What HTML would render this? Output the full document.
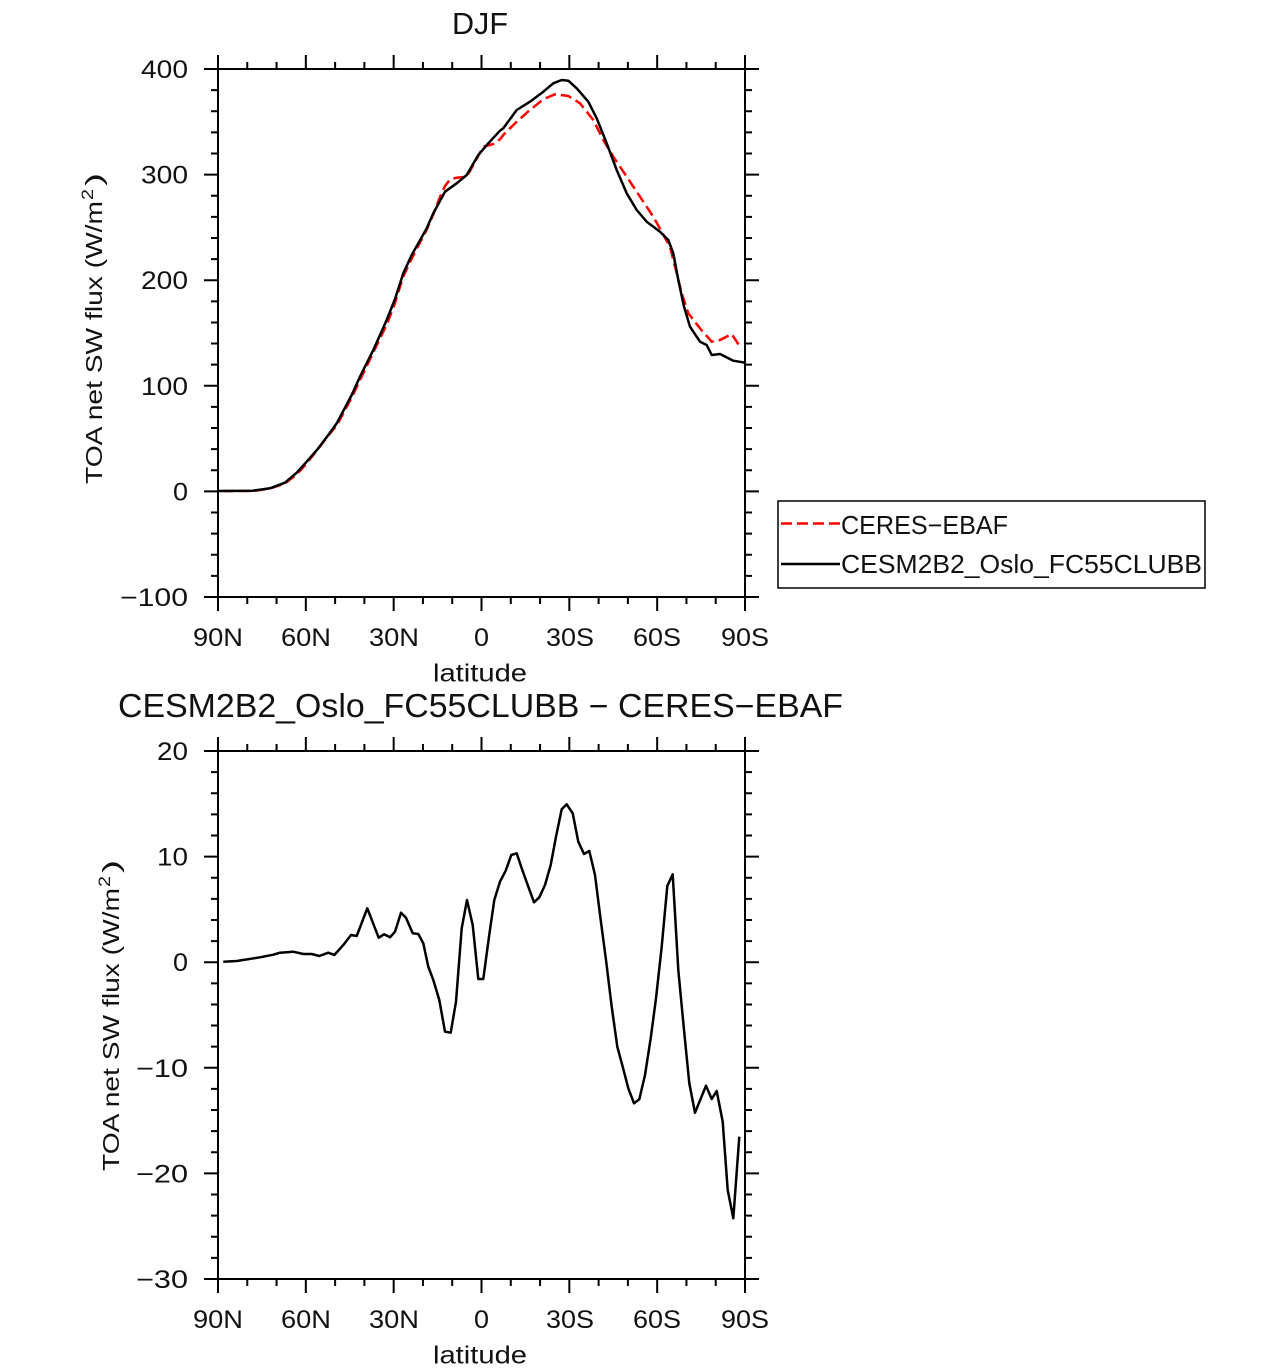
<!DOCTYPE html>
<html><head><meta charset="utf-8"><style>
html,body{margin:0;padding:0;background:#fff;}
svg{display:block;}
text{font-family:"Liberation Sans",sans-serif;fill:#111;}
</style></head><body>
<svg width="1285" height="1369" viewBox="0 0 1285 1369" xmlns="http://www.w3.org/2000/svg">
<rect width="1285" height="1369" fill="#fff"/>
<defs>
<g id="axes">
<rect x="218" y="69" width="527" height="528" fill="none" stroke="#000" stroke-width="2"/>
<path fill="none" stroke="#000" stroke-width="2" d="
M218 55V69M218 597V611M305.83 55V69M305.83 597V611M393.67 55V69M393.67 597V611M481.5 55V69M481.5 597V611M569.33 55V69M569.33 597V611M657.17 55V69M657.17 597V611M745 55V69M745 597V611
M247.28 62V69M247.28 597V604M276.56 62V69M276.56 597V604M335.11 62V69M335.11 597V604M364.39 62V69M364.39 597V604M422.94 62V69M422.94 597V604M452.22 62V69M452.22 597V604M510.78 62V69M510.78 597V604M540.06 62V69M540.06 597V604M598.61 62V69M598.61 597V604M627.89 62V69M627.89 597V604M686.44 62V69M686.44 597V604M715.72 62V69M715.72 597V604
M204 69H218M745 69H759M204 174.6H218M745 174.6H759M204 280.2H218M745 280.2H759M204 385.8H218M745 385.8H759M204 491.4H218M745 491.4H759M204 597H218M745 597H759
M211 90.12H218M745 90.12H752M211 111.24H218M745 111.24H752M211 132.36H218M745 132.36H752M211 153.48H218M745 153.48H752
M211 195.72H218M745 195.72H752M211 216.84H218M745 216.84H752M211 237.96H218M745 237.96H752M211 259.08H218M745 259.08H752
M211 301.32H218M745 301.32H752M211 322.44H218M745 322.44H752M211 343.56H218M745 343.56H752M211 364.68H218M745 364.68H752
M211 406.92H218M745 406.92H752M211 428.04H218M745 428.04H752M211 449.16H218M745 449.16H752M211 470.28H218M745 470.28H752
M211 512.52H218M745 512.52H752M211 533.64H218M745 533.64H752M211 554.76H218M745 554.76H752M211 575.88H218M745 575.88H752"/>
<g font-size="25">
<text x="193" y="646" textLength="50" lengthAdjust="spacingAndGlyphs">90N</text>
<text x="281" y="646" textLength="50" lengthAdjust="spacingAndGlyphs">60N</text>
<text x="369" y="646" textLength="50" lengthAdjust="spacingAndGlyphs">30N</text>
<text x="474" y="646" textLength="15" lengthAdjust="spacingAndGlyphs">0</text>
<text x="546" y="646" textLength="48" lengthAdjust="spacingAndGlyphs">30S</text>
<text x="633" y="646" textLength="48" lengthAdjust="spacingAndGlyphs">60S</text>
<text x="721" y="646" textLength="48" lengthAdjust="spacingAndGlyphs">90S</text>
<text x="433" y="681.5" textLength="94" lengthAdjust="spacingAndGlyphs">latitude</text>
</g>
</g>
</defs>

<!-- Top plot -->
<text x="452" y="34" font-size="31" textLength="56" lengthAdjust="spacingAndGlyphs">DJF</text>
<use href="#axes"/>
<g font-size="25">
<text x="141" y="78" textLength="47" lengthAdjust="spacingAndGlyphs">400</text>
<text x="141" y="183.6" textLength="47" lengthAdjust="spacingAndGlyphs">300</text>
<text x="141" y="289.2" textLength="47" lengthAdjust="spacingAndGlyphs">200</text>
<text x="141" y="394.8" textLength="47" lengthAdjust="spacingAndGlyphs">100</text>
<text x="173" y="500.4" textLength="15" lengthAdjust="spacingAndGlyphs">0</text>
<text x="120" y="606" textLength="68" lengthAdjust="spacingAndGlyphs">−100</text>
</g>
<g transform="translate(102,484) rotate(-90)">
<text x="0" y="0" font-size="23" textLength="283" lengthAdjust="spacingAndGlyphs">TOA net SW flux (W/m</text>
<text x="284" y="-9" font-size="17" textLength="11" lengthAdjust="spacingAndGlyphs">2</text>
<text x="298" y="0" font-size="23" textLength="13" lengthAdjust="spacingAndGlyphs">)</text>
</g>

<polyline fill="none" stroke="#ff0000" stroke-width="2.5" stroke-dasharray="11 5" stroke-linejoin="round" points="223,491 253,491 270,488.5 285,483.5 297,474 307,463 318,449 328,436 337,425 345,410 352,397 360,380 373,353 387,324 395,303 403,277 412,258 427,229 433,215 440,197 445,186 450,179.5 456.7,177.7 466.7,176.7 473.3,165 483.3,146.7 493.3,144 500,139.3 503.3,135 516.7,121.7 530,110 543.3,99.3 555,94.3 568.3,96 580,103.3 593.3,120 603.3,140 613.3,156.7 626.7,176.7 640,196.7 653.3,216.7 661.7,231.7 670,246.7 676.7,273.3 681.7,293.3 688.3,313.3 700,328.3 711.7,341.7 720,340 731.7,334 740,346.7"/>
<polyline fill="none" stroke="#000" stroke-width="2.5" stroke-linejoin="round" points="218,491 253,490.7 270,488.3 285,482.7 296.7,472.7 306.7,461.7 318.3,448.3 328.3,435 336.7,423.3 345,407.7 351.7,395 360,376.7 373.3,350 386.7,320 395,299 403.3,273.3 411.7,255 426.7,228.3 433.3,213.3 445,191.7 456.7,183.3 466.7,175 478.3,155 488.3,143.3 500,130.7 503.3,128.3 516.7,110 530,101.7 543.3,91.7 553.3,83.3 561.7,80 568.3,80.7 576.7,88.3 588.3,101.7 596.7,118.3 606.7,143.3 616.7,170 626.7,193.3 636.7,210 646.7,221.7 660,231.7 668.3,240 673.3,253.3 678.3,280 684,306.7 690,326.7 700,341.7 706.7,345 711.7,355 720,354 733.3,360.7 745,362.7"/>

<!-- Legend -->
<rect x="778" y="501" width="427" height="87" fill="#fff" stroke="#000" stroke-width="1.5"/>
<line x1="781" y1="523.5" x2="840" y2="523.5" stroke="#ff0000" stroke-width="2.5" stroke-dasharray="11 5"/>
<line x1="781" y1="564" x2="840" y2="564" stroke="#000" stroke-width="2.5"/>
<text x="841" y="534" font-size="26" textLength="167" lengthAdjust="spacingAndGlyphs">CERES−EBAF</text>
<text x="841" y="573" font-size="26" textLength="361" lengthAdjust="spacingAndGlyphs">CESM2B2_Oslo_FC55CLUBB</text>

<!-- Bottom plot -->
<text x="118" y="717" font-size="33" textLength="725" lengthAdjust="spacingAndGlyphs">CESM2B2_Oslo_FC55CLUBB − CERES−EBAF</text>
<use href="#axes" transform="translate(0,682)"/>
<g font-size="25">
<text x="157" y="760" textLength="31" lengthAdjust="spacingAndGlyphs">20</text>
<text x="157" y="865.6" textLength="31" lengthAdjust="spacingAndGlyphs">10</text>
<text x="173" y="971.2" textLength="15" lengthAdjust="spacingAndGlyphs">0</text>
<text x="136" y="1076.8" textLength="52" lengthAdjust="spacingAndGlyphs">−10</text>
<text x="136" y="1182.4" textLength="52" lengthAdjust="spacingAndGlyphs">−20</text>
<text x="136" y="1288" textLength="52" lengthAdjust="spacingAndGlyphs">−30</text>
</g>
<g transform="translate(119,1171) rotate(-90)">
<text x="0" y="0" font-size="23" textLength="283" lengthAdjust="spacingAndGlyphs">TOA net SW flux (W/m</text>
<text x="284" y="-9" font-size="17" textLength="11" lengthAdjust="spacingAndGlyphs">2</text>
<text x="298" y="0" font-size="23" textLength="13" lengthAdjust="spacingAndGlyphs">)</text>
</g>
<polyline fill="none" stroke="#000" stroke-width="2.5" stroke-linejoin="round" points="223.3,961.7 236.7,961 260,957.3 273.3,954.7 280,952.7 293.3,951.7 303.3,954 311.7,954 319.3,956 328.3,952.7 334.3,955 343.3,945 351,935 356.7,936 367.3,908.3 378.7,937.7 384,934.3 390,937.3 395,931.7 401,912.7 406,917.7 412.7,933.3 418.3,934 423.3,943.3 428.3,966.7 433.3,980 439.3,1000 445,1031.7 450.7,1032.7 456,1001.7 461.7,928.3 467,900 472.7,925 478.3,979 483.3,979 489,936.7 494.3,900 500,881.7 505.7,870.7 511.3,855 516.7,853.3 522.3,870 528.3,886.7 534,902.3 539.3,897.3 545,885 550.7,865 556,836.7 561.7,809.3 566.7,804.3 572.7,813.3 578.3,841.7 584,854 589.3,851 595,875 600.7,920 606,960 611.7,1006.7 617.3,1046.7 622.7,1066.7 628.3,1088.3 634,1103.3 639.3,1099.3 645,1075 650.7,1038.3 656,998.3 661.7,946.7 667.3,886 672.7,874.3 678.3,970 684,1030 689.3,1083.3 695,1112.7 706,1085.7 711.7,1099 716.7,1091 722.7,1121.7 727.7,1190 733.3,1218.3 739.3,1136.7"/>
</svg>
</body></html>
